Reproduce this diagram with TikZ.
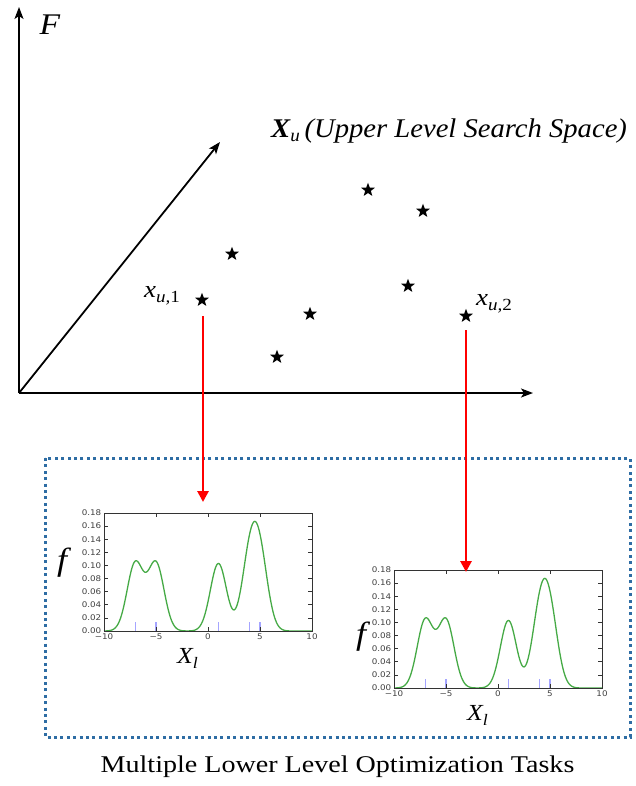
\documentclass[tikz,border=0pt]{standalone}
\usepackage{fontspec}
\setmainfont{Liberation Serif}
\newfontfamily\tickfont{DejaVu Sans}
\usetikzlibrary{shapes.geometric,arrows.meta}
\definecolor{boxblue}{RGB}{46,109,164}
\definecolor{curvegreen}{RGB}{70,170,70}
\definecolor{rugblue}{RGB}{165,165,255}
\tikzset{
  axisline/.style={line width=1.8pt,-{Stealth[length=12pt,width=9pt,inset=3pt]}},
  redarr/.style={draw=red,line width=2.9pt,-{Triangle[length=11pt,width=11pt]}},
  starmark/.style={star,star points=5,star point ratio=2.4,fill=black,inner sep=0pt,minimum size=14.5pt},
  dotbox/.style={draw=boxblue,line width=3pt,dash pattern=on 3pt off 3.4pt},
  bigital/.style={inner sep=0pt,xscale=1.12},
  ticklab/.style={inner sep=0pt,font=\tickfont\fontsize{7.8}{7.8}\selectfont,text=black!75,xscale=1.12},
  frameline/.style={draw=black!80,line width=0.9pt},
  curve/.style={draw=curvegreen,line width=1.3pt},
  rug/.style={draw=rugblue,line width=1.3pt},
  declare function={gk(\t)=exp(-(\t)^2/1.2);}
}
\newcommand\lowplot[3]{%
\begin{scope}[shift={(#1,#2)},x=10.4pt,y=655.5pt]
  \foreach \r in {-7,-5,1,4,5} \draw[rug] (\r,0) -- (\r,0.013);
  \draw[curve] plot[domain=-10:10,samples=241,smooth] (\x,{0.103*(gk(\x+7)+gk(\x+5)+gk(\x-1)+gk(\x-4)+gk(\x-5))});
  \foreach \v [count=\i] in {0.00,0.02,0.04,0.06,0.08,0.10,0.12,0.14,0.16,0.18}{
    \draw[frameline,line width=0.6pt] (-10,\v) -- ++(4pt,0);
    \draw[frameline,line width=0.6pt] (10,\v) -- ++(-4pt,0);
    \node[ticklab,anchor=east] (#3y\i) at ([xshift=-2.5pt]-10,\v) {\v};
  }
  \foreach \v/\l [count=\i] in {-10/−10,-5/−5,0/0,5/5,10/10}{
    \draw[frameline,line width=0.6pt] (\v,0) -- ++(0,4pt);
    \draw[frameline,line width=0.6pt] (\v,0.18) -- ++(0,-4pt);
    \node[ticklab,anchor=north] (#3x\i) at ([yshift=-2.5pt]\v,0) {\l};
  }
  \draw[frameline] (-10,0) rectangle (10,0.18);
\end{scope}}
\begin{document}
\begin{tikzpicture}[x=1pt,y=-1pt]
\useasboundingbox (0,0) rectangle (635,786);
% axes
\coordinate (O) at (19,393);
\coordinate (ytop) at (19,7);
\coordinate (xend) at (533,393);
\coordinate (dend) at (220,142);
\draw[axisline] (O) -- (ytop);
\draw[axisline] (O) -- (xend);
\draw[axisline] (O) -- (dend);
\node[bigital,font=\fontsize{30}{30}\selectfont\itshape] (F) at (50,24.5) {F};
\node[inner sep=0pt,xscale=1.06,anchor=base west,font=\fontsize{27}{27}\selectfont\itshape] (Xu) at (271,138)
  {{\bfseries X}\raisebox{-4pt}{\fontsize{18}{18}\selectfont u}\,(Upper Level Search Space)};
% stars
\node[starmark] (s1) at (202,300) {};
\node[starmark] (s2) at (232,254) {};
\node[starmark] (s3) at (277,357) {};
\node[starmark] (s4) at (310,314) {};
\node[starmark] (s5) at (368,190) {};
\node[starmark] (s6) at (408,286) {};
\node[starmark] (s7) at (423,211) {};
\node[starmark] (s8) at (466,316) {};
\node[bigital,anchor=base west,font=\fontsize{24}{24}\selectfont\itshape] (lab1) at (144,297)
  {x\raisebox{-5pt}{\fontsize{17}{17}\selectfont u,\upshape 1}};
\node[bigital,anchor=base west,font=\fontsize{24}{24}\selectfont\itshape] (lab2) at (476,305)
  {x\raisebox{-5pt}{\fontsize{17}{17}\selectfont u,\upshape 2}};
% lower box
\draw[dotbox] (45,458) rectangle (630,737);
% plots
\lowplot{208}{631}{pa}
\lowplot{498}{688}{pb}
\node[bigital,font=\fontsize{32}{32}\selectfont\itshape] (f1) at (62,563) {f};
\node[bigital,font=\fontsize{32}{32}\selectfont\itshape] (f2) at (361,637) {f};
\node[bigital,anchor=base west,font=\fontsize{23}{23}\selectfont\itshape] (Xl1) at (177,663)
  {X\raisebox{-5pt}{\fontsize{16}{16}\selectfont l}};
\node[bigital,anchor=base west,font=\fontsize{23}{23}\selectfont\itshape] (Xl2) at (467,720)
  {X\raisebox{-5pt}{\fontsize{16}{16}\selectfont l}};
% red arrows
\coordinate (a1s) at (203,316);
\coordinate (a1e) at (203,502);
\coordinate (a2s) at (466,330);
\coordinate (a2e) at (466,572);
\draw[redarr] (a1s) -- (a1e);
\draw[redarr] (a2s) -- (a2e);
% caption
\node[anchor=base,inner sep=0pt,xscale=1.17,font=\fontsize{24}{24}\selectfont] (cap) at (337.5,772)
  {Multiple Lower Level Optimization Tasks};
\end{tikzpicture}
\end{document}
